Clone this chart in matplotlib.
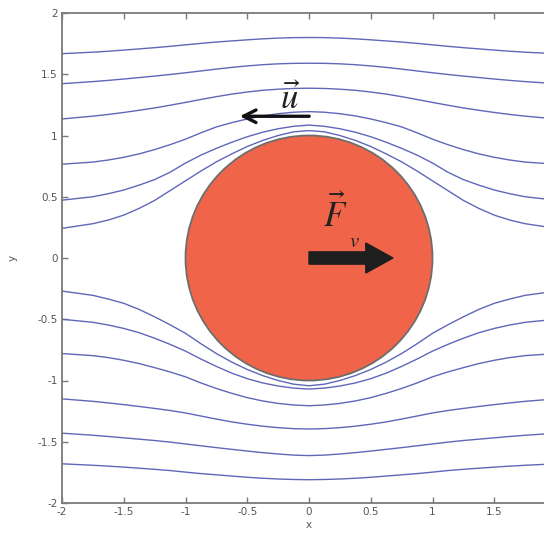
import numpy as np
import matplotlib
matplotlib.use("Agg")
import matplotlib.pyplot as plt
from matplotlib.patches import Circle, FancyArrow

plt.rcParams['mathtext.fontset'] = 'stix'

# x positions where the streamlines were read (left half, the picture is symmetric in x)
x_meia = [-2.0, -1.75, -1.625, -1.5, -1.375, -1.25, -1.125, -1.0, -0.875, -0.75,
          -0.625, -0.5, -0.375, -0.25, -0.125, 0.0]

# upper streamlines, y read at each x of x_meia
linhas_cima = [
  [1.668, 1.68, 1.688, 1.697, 1.707, 1.717, 1.728, 1.74, 1.752, 1.763, 1.772, 1.781, 1.789, 1.795, 1.799, 1.80],
  [1.423, 1.44, 1.45, 1.461, 1.473, 1.485, 1.498, 1.512, 1.527, 1.542, 1.556, 1.568, 1.578, 1.585, 1.589, 1.59],
  [1.135, 1.158, 1.172, 1.188, 1.206, 1.225, 1.247, 1.27, 1.294, 1.317, 1.338, 1.355, 1.369, 1.378, 1.384, 1.386],
  [0.766, 0.783, 0.80, 0.822, 0.85, 0.885, 0.925, 0.97, 1.022, 1.07, 1.105, 1.135, 1.16, 1.178, 1.19, 1.195],
  [0.472, 0.50, 0.525, 0.555, 0.595, 0.64, 0.70, 0.775, 0.84, 0.895, 0.945, 0.99, 1.027, 1.055, 1.075, 1.085],
  [0.242, 0.28, 0.31, 0.35, 0.405, 0.47, 0.55, 0.63, 0.71, 0.785, 0.85, 0.91, 0.96, 1.0, 1.03, 1.04],
]
# lower streamlines
linhas_baixo = [
  [-1.68, -1.692, -1.699, -1.707, -1.716, -1.725, -1.735, -1.748, -1.76, -1.77, -1.78, -1.79, -1.798, -1.804, -1.808, -1.81],
  [-1.43, -1.447, -1.457, -1.468, -1.479, -1.49, -1.503, -1.518, -1.533, -1.548, -1.562, -1.576, -1.589, -1.6, -1.609, -1.613],
  [-1.15, -1.17, -1.183, -1.197, -1.212, -1.228, -1.245, -1.265, -1.29, -1.315, -1.338, -1.357, -1.373, -1.385, -1.393, -1.396],
  [-0.78, -0.797, -0.813, -0.835, -0.862, -0.895, -0.93, -0.97, -1.02, -1.065, -1.105, -1.14, -1.167, -1.187, -1.2, -1.206],
  [-0.50, -0.525, -0.547, -0.575, -0.61, -0.655, -0.705, -0.76, -0.825, -0.885, -0.94, -0.985, -1.02, -1.045, -1.062, -1.07],
  [-0.27, -0.305, -0.335, -0.37, -0.42, -0.48, -0.545, -0.615, -0.70, -0.78, -0.85, -0.91, -0.96, -1.0, -1.03, -1.043],
]

raio = 1.0
u_inicio, u_fim, u_y = 0.024, -0.583, 1.157
F_inicio, F_fim = 0.0, 0.68

ticks = [-2, -1.5, -1, -0.5, 0, 0.5, 1, 1.5, 2]
ticks_rot_y = ["-2", "-1.5", "-1", "-0.5", "0", "0.5", "1", "1.5", "2"]
ticks_rot_x = ["-2", "-1.5", "-1", "-0.5", "0", "0.5", "1", "1.5", ""]  # the 2 falls outside the picture

cor_linha = "#5f67b9"
cinza = "#7a7a7a"

fig = plt.figure(figsize=(5.44, 5.38), dpi=100)
ax = fig.add_axes([62/544, 35/538, 494/544, 490/538])

x_todo = np.array(x_meia + [-v for v in x_meia[-2::-1]])
for lin in linhas_cima + linhas_baixo:
  y_todo = np.array(lin + lin[-2::-1])
  ax.plot(x_todo, y_todo, color=cor_linha, lw=1.0, solid_joinstyle='round')

ax.add_patch(Circle((0, 0), raio, facecolor="#f0654a", edgecolor="#6d6d6d", lw=1.3, zorder=3))

# arrow u
ax.annotate("", xy=(u_fim, u_y), xytext=(u_inicio, u_y),
            arrowprops=dict(arrowstyle="->,head_length=0.9,head_width=0.45", color="#111111", lw=2.4),
            zorder=5)
ax.text(-0.15, 1.30, r"$\vec{u}$", fontsize=25, ha="center", va="center", color="#222222", zorder=5)

# arrow F_v
ax.add_patch(FancyArrow(F_inicio, 0.0, F_fim - F_inicio, 0.0, width=0.1, head_width=0.245,
                        head_length=0.22, length_includes_head=True, color="#1e1e1e", zorder=5))
ax.text(0.21, 0.36, r"$\vec{F}$", fontsize=25, ha="center", va="center", color="#222222", zorder=5)
ax.text(0.37, 0.14, r"$v$", fontsize=15, ha="center", va="center", color="#222222", zorder=5)

ax.set_xlim(-2, 2)
ax.set_ylim(-2, 2)
ax.set_xticks(ticks)
ax.set_xticklabels(ticks_rot_x)
ax.set_yticks(ticks)
ax.set_yticklabels(ticks_rot_y)
ax.tick_params(direction="in", top=True, right=True, length=4, width=1.0, color=cinza,
               labelsize=7.5, labelcolor="#555555", pad=3)
for s in ax.spines.values():
  s.set_color(cinza)
  s.set_linewidth(1.3)

ax.set_xlabel("x", fontsize=7.5, color="#555555", labelpad=2)
ax.set_ylabel("y", fontsize=7.5, color="#555555", labelpad=14)

fig.savefig("out.png", dpi=100)
